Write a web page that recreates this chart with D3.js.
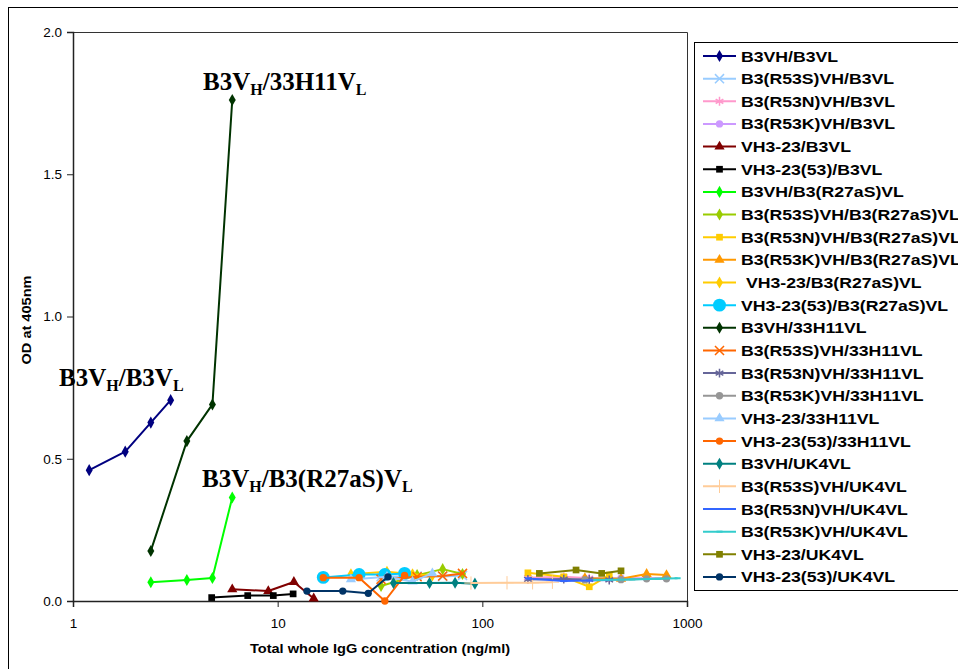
<!DOCTYPE html>
<html>
<head>
<meta charset="utf-8">
<script src="https://cdn.jsdelivr.net/npm/d3@7"></script>
<style>
  body { margin: 0; background: #fff; }
  svg { display: block; }
</style>
</head>
<body>
<div id="chart"></div>
<script>
// --- data (x = total IgG ng/ml, y = OD at 405nm) ---
const seriesNames = [
  'B3VH/B3VL', 'B3(R53S)VH/B3VL', 'B3(R53N)VH/B3VL', 'B3(R53K)VH/B3VL',
  'VH3-23/B3VL', 'VH3-23(53)/B3VL', 'B3VH/B3(R27aS)VL', 'B3(R53S)VH/B3(R27aS)VL',
  'B3(R53N)VH/B3(R27aS)VL', 'B3(R53K)VH/B3(R27aS)VL', ' VH3-23/B3(R27aS)VL', 'VH3-23(53)/B3(R27aS)VL',
  'B3VH/33H11VL', 'B3(R53S)VH/33H11VL', 'B3(R53N)VH/33H11VL', 'B3(R53K)VH/33H11VL',
  'VH3-23/33H11VL', 'VH3-23(53)/33H11VL', 'B3VH/UK4VL', 'B3(R53S)VH/UK4VL',
  'B3(R53N)VH/UK4VL', 'B3(R53K)VH/UK4VL', 'VH3-23/UK4VL', 'VH3-23(53)/UK4VL'
];

const seriesX = [
  [1.2, 1.8, 2.4, 3.0],
  [32, 48, 64, 80],
  [167, 250, 333, 417],
  [317, 476, 635, 794],
  [6, 9, 12, 15],
  [4.76, 7.14, 9.52, 11.9],
  [2.4, 3.6, 4.8, 6.0],
  [32, 48, 64, 80],
  [167, 250, 333, 417],
  [317, 476, 635, 794],
  [22.8, 34.2, 45.6, 57],
  [16.7, 25, 33.4, 41.7],
  [2.4, 3.6, 4.8, 6.0],
  [32, 48, 64, 80],
  [167, 250, 333, 417],
  [317, 476, 635, 794],
  [22.8, 34.2, 45.6, 57],
  [16.7, 25, 33.4, 41.7],
  [36.8, 55.2, 73.6, 92],
  [88, 132, 176, 220],
  [167, 250, 333, 417],
  [360, 540, 720, 900],
  [190, 287, 383, 476],
  [13.9, 20.8, 27.7, 34.6]
];

const seriesY = [
  [0.46, 0.525, 0.627, 0.706],
  [0.085, 0.088, 0.086, 0.09],
  [0.082, 0.085, 0.08, 0.078],
  [0.079, 0.08, 0.08, 0.08],
  [0.041, 0.035, 0.067, 0.009],
  [0.012, 0.019, 0.019, 0.025],
  [0.066, 0.074, 0.081, 0.364],
  [0.053, 0.091, 0.112, 0.095],
  [0.099, 0.085, 0.05, 0.091],
  [0.08, 0.078, 0.095, 0.091],
  [0.094, 0.103, 0.094, 0.09],
  [0.083, 0.093, 0.093, 0.097],
  [0.176, 0.562, 0.691, 1.761],
  [0.076, 0.085, 0.088, 0.097],
  [0.076, 0.077, 0.076, 0.074],
  [0.074, 0.075, 0.078, 0.078],
  [0.076, 0.085, 0.068, 0.097],
  [0.082, 0.082, 0.0, 0.09],
  [0.063, 0.063, 0.064, 0.061],
  [0.063, 0.064, 0.064, 0.066],
  [0.079, 0.07, 0.072, 0.074],
  [0.074, 0.076, 0.078, 0.08],
  [0.097, 0.109, 0.097, 0.106],
  [0.035, 0.035, 0.027, 0.085]
];

const xTicks = [1, 10, 100, 1000];
const yTicks = [0, 0.5, 1.0, 1.5, 2.0];

// annotation labels: alternating normal / subscript pieces
const annotationParts = [
  ['B3V', 'H', '/33H11V', 'L'],
  ['B3V', 'H', '/B3V', 'L'],
  ['B3V', 'H', '/B3(R27aS)V', 'L']
];
const annotationPos = [[203, 90], [59, 386], [202, 487]];

// --- styles per series (colour, marker) ---
const colors = [
  '#000080', '#99CCFF', '#FF99CC', '#CC99FF', '#800000', '#000000',
  '#00FF00', '#99CC00', '#FFCC00', '#FF9900', '#FFCC00', '#00CCFF',
  '#003300', '#FF6600', '#666699', '#969696', '#99CCFF', '#FF6600',
  '#008080', '#FFCC99', '#3366FF', '#33CCCC', '#808000', '#003366'
];
const markers = [
  'diamond', 'x', 'star', 'circle', 'triangle', 'square',
  'diamond', 'diamond', 'square', 'triangle', 'diamond', 'bigcircle',
  'diamond', 'x', 'star', 'circle', 'triangle', 'circle',
  'diamond', 'plus', 'dash', 'dash', 'square', 'circle'
];

const W = 958, H = 669;
const plot = { left: 73, right: 687, top: 32, bottom: 601 };

const svg = d3.select('#chart').append('svg')
  .attr('width', W).attr('height', H);

// outer chart frame (runs off the page on right / bottom)
svg.append('rect')
  .attr('x', 8.5).attr('y', 7.5)
  .attr('width', 980).attr('height', 700)
  .attr('fill', '#fff').attr('stroke', '#000').attr('stroke-width', 1);

const x = d3.scaleLog().domain([1, 1000]).range([plot.left, plot.right]);
const y = d3.scaleLinear().domain([0, 2]).range([plot.bottom, plot.top]);

// plot area border (top + right)
svg.append('path')
  .attr('d', `M${plot.left},${plot.top + 0.5}H${plot.right + 0.5}V${plot.bottom}`)
  .attr('fill', 'none').attr('stroke', '#333').attr('stroke-width', 1);

// --- axes ---
const xAxis = svg.append('g')
  .attr('transform', `translate(0,${plot.bottom})`)
  .call(d3.axisBottom(x).tickValues(xTicks).tickFormat(d3.format('d')).tickSizeOuter(0).tickSize(6).tickPadding(11));
xAxis.select('.domain').attr('stroke', '#222').attr('stroke-width', 1.5);
xAxis.selectAll('.tick line').attr('stroke', '#222');
xAxis.selectAll('text')
  .style('font-family', 'Liberation Sans, Arial, sans-serif')
  .style('font-size', '13.5px').attr('fill', '#000');

const yAxis = svg.append('g')
  .attr('transform', `translate(${plot.left},0)`)
  .call(d3.axisLeft(y).tickValues(yTicks).tickFormat(d3.format('.1f')).tickSizeOuter(0).tickSize(6).tickPadding(5));
yAxis.select('.domain').attr('stroke', '#222').attr('stroke-width', 1.5);
yAxis.selectAll('.tick line').attr('stroke', '#222');
yAxis.selectAll('text')
  .style('font-family', 'Liberation Sans, Arial, sans-serif')
  .style('font-size', '13.5px').attr('fill', '#000');

// axis titles
svg.append('text')
  .attr('transform', `translate(380,653) scale(1.12,1)`)
  .attr('text-anchor', 'middle')
  .style('font-family', 'Liberation Sans, Arial, sans-serif')
  .style('font-size', '13px').style('font-weight', 'bold')
  .text('Total whole IgG concentration (ng/ml)');

svg.append('text')
  .attr('transform', `translate(31,320) rotate(-90) scale(1.12,1)`)
  .attr('text-anchor', 'middle')
  .style('font-family', 'Liberation Sans, Arial, sans-serif')
  .style('font-size', '13px').style('font-weight', 'bold')
  .text('OD at 405nm');

// --- markers ---
function drawMarker(g, type, color, cx, cy) {
  const m = g.append('g').attr('transform', `translate(${cx},${cy})`);
  if (type === 'diamond') {
    m.append('path').attr('d', d3.symbol(d3.symbolDiamond, 42)()).attr('fill', color);
  } else if (type === 'square') {
    m.append('path').attr('d', d3.symbol(d3.symbolSquare, 45)()).attr('fill', color);
  } else if (type === 'triangle') {
    m.append('path').attr('d', d3.symbol(d3.symbolTriangle, 45)()).attr('fill', color);
  } else if (type === 'circle') {
    m.append('path').attr('d', d3.symbol(d3.symbolCircle, 42)()).attr('fill', color);
  } else if (type === 'bigcircle') {
    m.append('path').attr('d', d3.symbol(d3.symbolCircle, 130)()).attr('fill', color);
  } else if (type === 'x') {
    m.append('path').attr('d', d3.symbol(d3.symbolX, 55)()).attr('fill', 'none')
      .attr('stroke', color).attr('stroke-width', 1.5);
  } else if (type === 'star') {
    m.append('path').attr('d', d3.symbol(d3.symbolAsterisk, 55)()).attr('fill', 'none')
      .attr('stroke', color).attr('stroke-width', 1.5);
  } else if (type === 'plus') {
    m.append('path').attr('d', d3.symbol(d3.symbolPlus, 60)()).attr('fill', 'none')
      .attr('stroke', color).attr('stroke-width', 1);
  } else if (type === 'dash') {
    m.append('path').attr('d', 'M-3,0H3').attr('stroke', color).attr('stroke-width', 2);
  }
}

const line = d3.line().x(d => x(d[0])).y(d => y(d[1]));

const marks = svg.append('g');
seriesNames.forEach((name, i) => {
  const pts = seriesX[i].map((v, j) => [v, seriesY[i][j]]);
  const g = marks.append('g');
  g.append('path')
    .datum(pts)
    .attr('d', line)
    .attr('fill', 'none')
    .attr('stroke', colors[i])
    .attr('stroke-width', 2)
    .attr('stroke-linejoin', 'round');
  pts.forEach(p => drawMarker(g, markers[i], colors[i], x(p[0]), y(p[1])));
});

// --- annotation labels with subscripts ---
annotationParts.forEach((parts, n) => {
  const t = svg.append('text')
    .attr('x', annotationPos[n][0]).attr('y', annotationPos[n][1])
    .style('font-family', 'Liberation Serif, Times New Roman, serif')
    .style('font-weight', 'bold')
    .style('font-size', '25px');
  parts.forEach((p, k) => {
    const sub = k % 2 === 1;
    t.append('tspan')
      .style('font-size', sub ? '16px' : '25px')
      .attr('dy', sub ? 5 : (k > 0 ? -5 : 0))
      .text(p);
  });
});

// --- legend ---
const legend = { left: 694, top: 42, bottom: 590, first: 56, step: 22.65 };
svg.append('rect')
  .attr('x', legend.left + 0.5).attr('y', legend.top + 0.5)
  .attr('width', 400).attr('height', legend.bottom - legend.top)
  .attr('fill', '#fff').attr('stroke', '#000');

seriesNames.forEach((name, i) => {
  const cy = legend.first + i * legend.step;
  const g = svg.append('g');
  g.append('line')
    .attr('x1', 703).attr('x2', 736).attr('y1', cy).attr('y2', cy)
    .attr('stroke', colors[i]).attr('stroke-width', 2);
  drawMarker(g, markers[i], colors[i], 719.5, cy);
  g.append('text')
    .attr('transform', `translate(741,${cy + 5.5}) scale(1.14,1)`)
    .style('font-family', 'Liberation Sans, Arial, sans-serif')
    .style('font-size', '15.5px').style('font-weight', 'bold')
    .style('white-space', 'pre')
    .text(name);
});
</script>
</body>
</html>
